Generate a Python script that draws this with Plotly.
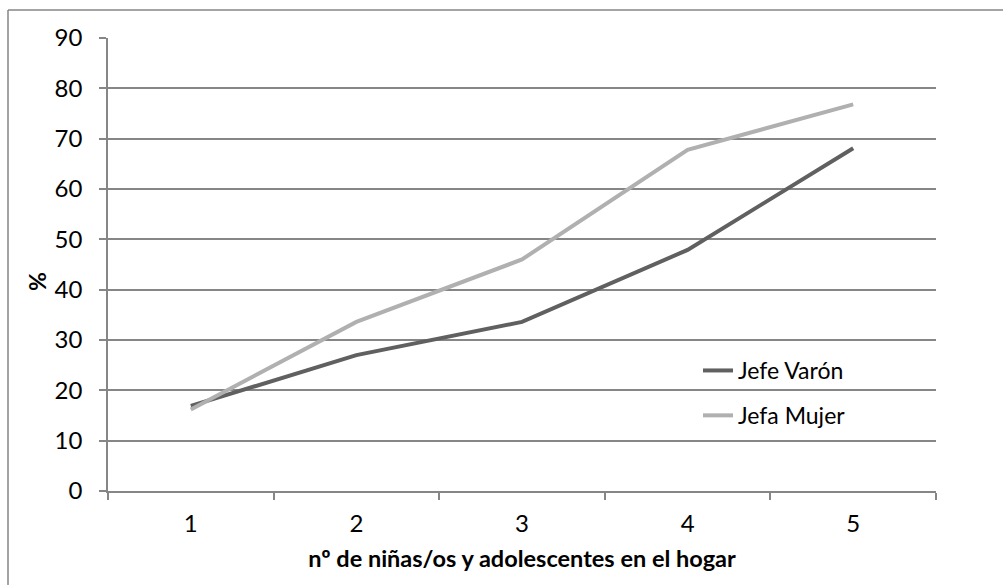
import plotly.graph_objects as go

categories = ["1", "2", "3", "4", "5"]
jefe_varon = [16.9, 27.0, 33.6, 47.9, 68.1]
jefa_mujer = [16.2, 33.6, 46.0, 67.8, 76.8]
y_ticks = [0, 10, 20, 30, 40, 50, 60, 70, 80, 90]

FONT = "Lato, Carlito, Calibri, sans-serif"
GRID = "#868686"

fig = go.Figure()
fig.add_trace(go.Scatter(x=categories, y=jefe_varon, mode="lines", name="Jefe Varón",
                         line=dict(color="#606060", width=4), legendgroup="a"))
fig.add_trace(go.Scatter(x=categories, y=jefa_mujer, mode="lines", name="Jefa Mujer",
                         line=dict(color="#b0b0b0", width=4), legendgroup="b"))

L, R, T, B = 108, 67, 38, 94
W, H = 1003, 585
pw, ph = W - L - R, H - T - B

def px_x(px):
    return (px - L) / pw

def px_y(py):
    return (H - B - py) / ph

fig.update_layout(
    width=W, height=H,
    margin=dict(l=L, r=R, t=T, b=B),
    paper_bgcolor="white", plot_bgcolor="white",
    font=dict(family=FONT, size=24, color="#000000"),
    showlegend=True,
    legend=dict(x=px_x(698), y=px_y(349), xanchor="left", yanchor="top",
                traceorder="grouped", tracegroupgap=12, bgcolor="rgba(0,0,0,0)",
                font=dict(size=23)),
    xaxis=dict(type="category", range=[-0.5, 4.5], showgrid=False, showline=True, linecolor=GRID,
               linewidth=1.5, ticks="outside", tickson="boundaries", ticklen=7, tickcolor=GRID,
               tickwidth=1.5, ticklabelstandoff=10, tickfont=dict(size=24),
               title=dict(text="<b>nº de niñas/os y adolescentes en el hogar</b>",
                          font=dict(size=23.5), standoff=15)),
    yaxis=dict(range=[0, 90], tickvals=y_ticks, showgrid=True, gridcolor=GRID, gridwidth=1.5,
               showline=True, linecolor=GRID, linewidth=1.5, zeroline=False,
               ticks="outside", ticklen=7, tickcolor=GRID, tickwidth=1.5,
               ticklabelstandoff=12, tickfont=dict(size=24)),
    annotations=[dict(text="<b>%</b>", textangle=-90, x=px_x(37), y=px_y(282), xref="paper", yref="paper",
                      showarrow=False, font=dict(size=23), xanchor="center", yanchor="middle")],
    shapes=[
        dict(type="line", xref="paper", yref="paper", x0=px_x(8), x1=px_x(1010), y0=px_y(10), y1=px_y(10),
             line=dict(color=GRID, width=1.5)),
        dict(type="line", xref="paper", yref="paper", x0=px_x(8), x1=px_x(8), y0=px_y(10), y1=px_y(600),
             line=dict(color=GRID, width=1.5)),
    ],
)

fig.write_html("out.html", config={"displayModeBar": False},
               post_script="document.body.style.margin='0';document.body.style.overflow='hidden';")
